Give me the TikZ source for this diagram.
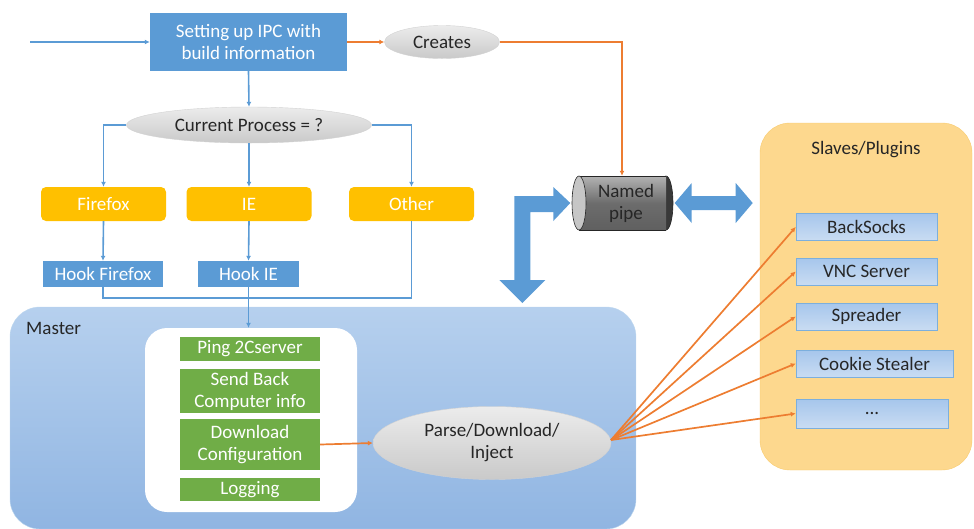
\documentclass[tikz,border=0pt]{standalone}
\usepackage{fontspec}
\setmainfont{Carlito}
\usetikzlibrary{shapes.geometric,arrows.meta,calc}
\definecolor{mblue}{HTML}{5B9BD5}
\definecolor{morange}{HTML}{ED7D31}
\definecolor{myellow}{HTML}{FFC000}
\definecolor{mgreen}{HTML}{70AD47}
\definecolor{txtdark}{HTML}{262626}
\definecolor{masterTop}{HTML}{B6D0EE}
\definecolor{masterBot}{HTML}{90B5E2}
\definecolor{slaveFill}{HTML}{FDD88E}
\definecolor{slaveEdge}{HTML}{F8CB6E}
\definecolor{sboxTop}{HTML}{A6C6EC}
\definecolor{sboxBot}{HTML}{C9DCF2}
\tikzset{
  every node/.style={font=\fontsize{19}{22}\selectfont, inner sep=0pt, align=center},
  bluebox/.style={rectangle, fill=mblue, text=white},
  yellowbox/.style={rectangle, rounded corners=5pt, fill=myellow, text=white, minimum width=125pt, minimum height=34pt},
  greenbox/.style={rectangle, fill=mgreen, text=white, minimum width=140pt},
  greyell/.style={ellipse, top color=gray!15, bottom color=gray!42, draw=gray!35, text=txtdark},
  slavebox/.style={rectangle, top color=sboxTop, bottom color=sboxBot, draw=mblue!80, line width=0.6pt, text=txtdark, minimum height=27pt},
  bline/.style={draw=mblue, line width=1.6pt},
  barrow/.style={bline, -{Latex[length=5pt,width=5pt]}},
  oarrow/.style={draw=morange, line width=1.7pt, -{Latex[length=5pt,width=5pt]}},
}
\begin{document}
\begin{tikzpicture}[x=1pt,y=-1pt]
\useasboundingbox (0,0) rectangle (974,528);

% Panels
\node[rectangle, rounded corners=30pt, top color=masterTop, bottom color=masterBot, draw=mblue!40,
      minimum width=626pt, minimum height=222pt] (master) at (323,418) {};
\node[anchor=north west, text=txtdark] (masterlbl) at (26,322) {Master};
\node[rectangle, rounded corners=22pt, fill=white, minimum width=212pt, minimum height=184pt] (inner) at (251,420) {};

\node[rectangle, rounded corners=30pt, fill=slaveFill, draw=slaveEdge,
      minimum width=212pt, minimum height=347pt] (slaves) at (866,296.5) {};
\node[text=txtdark] (slaveslbl) at (866,150) {Slaves/Plugins};

% Top flow
\coordinate (start) at (30,42);
\node[bluebox, minimum width=197pt, minimum height=58pt] (setup) at (248.5,42) {Setting up IPC with\\build information};
\node[greyell, minimum width=115pt, minimum height=33pt] (creates) at (442,42) {Creates};
\node[greyell, minimum width=245pt, minimum height=36pt] (cur) at (249,125) {Current Process = ?};

\node[yellowbox] (ff) at (103.5,204) {Firefox};
\node[yellowbox] (ie) at (249,204) {IE};
\node[yellowbox] (other) at (411.5,204) {Other};

\node[bluebox, minimum width=120pt, minimum height=26pt] (hookff) at (103,274) {Hook Firefox};
\node[bluebox, minimum width=101pt, minimum height=26pt] (hookie) at (248.5,274) {Hook IE};

% Master content
\node[greenbox, minimum height=24pt] (ping) at (250,349) {Ping 2Cserver};
\node[greenbox, minimum height=44pt] (send) at (250,391) {Send Back\\Computer info};
\node[greenbox, minimum height=51pt] (dl) at (250,444.5) {Download\\Configuration};
\node[greenbox, minimum height=23pt] (log) at (250,489.5) {Logging};
\node[greyell, minimum width=238pt, minimum height=73pt] (parse) at (492,443) {Parse/Download/\\Inject};

% Slaves
\node[slavebox, minimum width=141pt] (s1) at (866.5,227) {BackSocks};
\node[slavebox, minimum width=141pt] (s2) at (866.5,271.5) {VNC Server};
\node[slavebox, minimum width=141pt] (s3) at (866.5,316.5) {Spreader};
\node[slavebox, minimum width=157pt] (s4) at (874.5,363.5) {Cookie Stealer};
\node[slavebox, minimum width=152pt, minimum height=29pt] (s5) at (872,413.5) {...};

% Named pipe (cylinder)
\node[minimum width=101pt, minimum height=54pt] (pipe) at (622,203) {};
\fill[gray!45!black, draw=gray!30!black, line width=0.6pt] (666,203) ellipse (7 and 27);
\shade[top color=gray!60, bottom color=gray!75!black, middle color=gray!85!black] (579,176) rectangle (666,230);
\draw[gray!30!black, line width=0.6pt] (579,176) -- (666,176) (579,230) -- (666,230);
\filldraw[fill=gray!45, draw=gray!30!black, line width=0.6pt] (579,203) ellipse (7 and 27);
\node[text=txtdark] (pipetxt) at (626,203) {Named\\pipe};

% Thick blue arrows
\fill[mblue] ($(pipe.east)+(2,0)$) -- ++(17,-20) -- ++(0,13) -- ++(44,0) -- ++(0,-13) -- ++(17,20)
  -- ++(-17,20) -- ++(0,-13) -- ++(-44,0) -- ++(0,13) -- cycle;
\fill[mblue] ($(pipe.west)+(-1,0)$) -- ++(-17,-16) -- ++(0,9) -- ++(-39,0) -- ++(0,84) -- ++(-15,0)
  -- ++(23,23) -- ++(23,-23) -- ++(-15,0) -- ++(0,-68) -- ++(23,0) -- ++(0,9) -- cycle;

% Blue connectors
\draw[barrow] (start) -- (setup.west);
\draw[barrow] (setup.south) -- (cur.north);
\draw[barrow] (cur.west) -| (ff.north);
\draw[barrow] (cur.south) -- (ie.north);
\draw[barrow] (cur.east) -| (other.north);
\draw[barrow] (ff.south) -- (hookff.north);
\draw[barrow] (ie.south) -- (hookie.north);
\coordinate (join) at (248.5,298);
\draw[bline] (hookff.south) |- (join) -| (other.south);
\draw[barrow] (hookie.south) -- (hookie.south |- inner.north);

% Orange connectors
\draw[oarrow] (setup.east) -- (creates.west);
\draw[oarrow] (creates.east) -| (pipe.north);
\draw[oarrow] (dl.east) -- (parse.west);
\coordinate (fan) at (611,440);
\foreach \s in {s1,s2,s3,s4,s5} \draw[oarrow] (fan) -- (\s.west);
\end{tikzpicture}
\end{document}
